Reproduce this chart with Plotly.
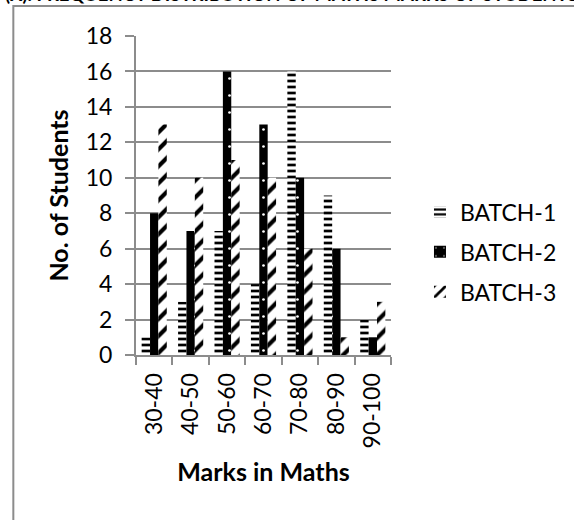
import plotly.graph_objects as go

categories = ["30-40", "40-50", "50-60", "60-70", "70-80", "80-90", "90-100"]
batch1 = [1, 3, 7, 4, 16, 9, 2]
batch2 = [8, 7, 16, 13, 10, 6, 1]
batch3 = [13, 10, 11, 10, 6, 1, 3]
series_names = ["BATCH-1", "BATCH-2", "BATCH-3"]
y_ticks = [0, 2, 4, 6, 8, 10, 12, 14, 16, 18]

FONT = "Lato"
GRID = "#8c8c8c"

W, H = 574, 520
L, R, T, B = 136, 174, 36, 165
PW, PH = W - L - R, H - T - B

def px_x(p):
    return (p - L) / PW

def px_y(p):
    return (H - B - p) / PH

fig = go.Figure()
fig.add_trace(go.Bar(
    x=categories, y=batch1, name=series_names[0], legendgroup="a",
    marker=dict(color="white", line=dict(width=0),
                pattern=dict(shape="-", fgcolor="black", bgcolor="white",
                             size=6, solidity=0.45, fillmode="replace")),
))
fig.add_trace(go.Bar(
    x=categories, y=batch2, name=series_names[1], legendgroup="b",
    marker=dict(color="black", line=dict(width=0),
                pattern=dict(shape=".", fgcolor="white", bgcolor="black",
                             size=17, solidity=0.02, fillmode="replace")),
))
fig.add_trace(go.Bar(
    x=categories, y=batch3, name=series_names[2], legendgroup="c",
    marker=dict(color="white", line=dict(width=0),
                pattern=dict(shape="/", fgcolor="black", bgcolor="white",
                             size=12, solidity=0.35, fillmode="replace")),
))

fig.update_layout(
    width=W, height=H,
    margin=dict(l=L, r=R, t=T, b=B, pad=0),
    paper_bgcolor="white", plot_bgcolor="white",
    font=dict(family=FONT, size=23, color="black"),
    barmode="group", bargap=0.31, bargroupgap=0,
    showlegend=True,
    legend=dict(x=px_x(430), xanchor="left", y=px_y(252), yanchor="middle",
                traceorder="grouped", tracegroupgap=7,
                font=dict(family=FONT, size=23, color="black"),
                bgcolor="rgba(0,0,0,0)"),
    xaxis=dict(
        type="category", tickangle=-90, showgrid=False,
        showline=True, linecolor=GRID, linewidth=2,
        ticks="outside", tickson="boundaries", ticklen=8, tickcolor=GRID, tickwidth=2,
        ticklabelstandoff=7,
        tickfont=dict(family=FONT, size=23, color="black"),
        title=dict(text="<b>Marks in Maths</b>", standoff=16,
                   font=dict(family=FONT, size=25, color="black")),
    ),
    yaxis=dict(
        range=[0, 18], tickvals=y_ticks, showgrid=True, gridcolor=GRID, gridwidth=2,
        showline=True, linecolor=GRID, linewidth=2, zeroline=False,
        ticks="outside", ticklen=9, tickcolor=GRID, tickwidth=2,
        ticklabelstandoff=8,
        tickfont=dict(family=FONT, size=23, color="black"),
        title=dict(text="<b>No. of Students</b>", standoff=10,
                   font=dict(family=FONT, size=25, color="black")),
    ),
    shapes=[dict(type="rect", xref="paper", yref="paper",
                 x0=px_x(9), x1=px_x(600), y0=px_y(540), y1=px_y(6),
                 line=dict(color=GRID, width=2), fillcolor="rgba(0,0,0,0)", layer="below")],
    annotations=[dict(text="<b>(X). FREQUENCY DISTRIBUTION OF MATHS MARKS OF STUDENTS</b>",
                      xref="paper", yref="paper", x=px_x(-2), y=px_y(-19),
                      xanchor="left", yanchor="top", showarrow=False,
                      font=dict(family=FONT, size=18.5, color="black"))],
)

fig.write_html("out.html")
